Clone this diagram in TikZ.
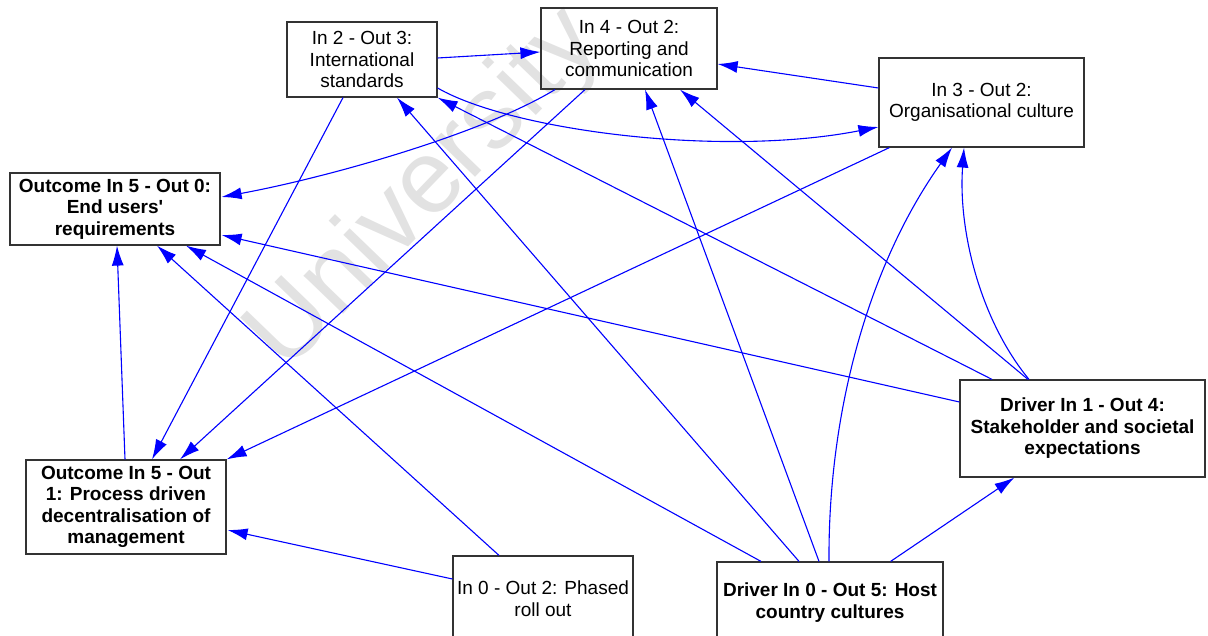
\documentclass[tikz,border=0pt]{standalone}
\usepackage{fontspec}
\setmainfont{Liberation Sans}
\usetikzlibrary{arrows.meta,calc}
\definecolor{linkblue}{RGB}{0,0,255}
\definecolor{boxgray}{RGB}{51,51,51}
\definecolor{markgray}{RGB}{226,226,226}
\begin{document}
\begin{tikzpicture}[x=0.5pt,y=-0.5pt,
  box/.style={draw=boxgray, line width=0.6pt, align=center, inner sep=0pt,
    font=\fontsize{9.5}{10.75}\selectfont},
  keybox/.style={box, font=\fontsize{9.5}{10.75}\selectfont\bfseries},
  link/.style={draw=linkblue, line width=0.55pt, -{Latex[length=10pt,width=6pt]}},
  mark text/.style={text=markgray, inner sep=0pt, rotate=46, anchor=base west,
    font=\fontsize{52}{52}\selectfont}
]
\useasboundingbox (0,0) rectangle (1208,636);
\clip (0,0) rectangle (1208,636);

% watermark
\node[mark text] (wm) at (286,374) {University};

% nodes
\node[box, minimum width=75pt, minimum height=37.5pt] (i23) at (362,59.5)
  {In 2 - Out 3:\\International\\standards};
\node[box, minimum width=88pt, minimum height=40.5pt] (i42) at (629,48.5)
  {In 4 - Out 2:\\Reporting and\\communication};
\node[box, minimum width=102.5pt, minimum height=44.5pt] (i32) at (981.5,102.5)
  {In 3 - Out 2:\\Organisational culture};
\node[keybox, minimum width=105pt, minimum height=36pt] (o50) at (115,209)
  {Outcome In 5 - Out 0:\\End users\textquotesingle\\requirements};
\node[keybox, minimum width=100pt, minimum height=47pt] (o51) at (126,507)
  {Outcome In 5 - Out\\1: Process driven\\decentralisation of\\management};
\node[box, minimum width=90pt, minimum height=42.5pt] (p02) at (543,598.5)
  {In 0 - Out 2: Phased\\roll out};
\node[keybox, minimum width=113pt, minimum height=40.5pt] (d05) at (830,602.5)
  {Driver In 0 - Out 5: Host\\country cultures};
\node[keybox, minimum width=122.5pt, minimum height=48.5pt] (d14) at (1082.5,428.5)
  {Driver In 1 - Out 4:\\Stakeholder and societal\\expectations};

% connectors
\draw[link] ($(i23.east)+(0,-1.5)$) -- ($(i42.west)+(0,3.5)$);
\draw[link] ($(i32.west)+(0,-14.5)$) -- ($(i42.east)+(0,15.5)$);
\draw[link] ($(i23.east)+(0,28.5)$) .. controls (510,130) and (720,158) .. ($(i32.west)+(0,24.5)$);
\draw[link] ($(i42.south)+(-74,0)$) .. controls (480,135) and (325,178) .. ($(o50.east)+(1,-12)$);
\draw[link] ($(i23.south)+(-19,0)$) -- ($(o51.north)+(26,0)$);
\draw[link] ($(i42.south)+(-44,0)$) -- ($(o51.north)+(54,0)$);
\draw[link] ($(i32.south west)+(11,0)$) -- (o51.north east);
\draw[link] ($(o51.north)+(-1,0)$) -- ($(o50.south)+(2,0)$);
\draw[link] ($(p02.west)+(0,-19.5)$) -- ($(o51.east)+(1,23)$);
\draw[link] ($(p02.north)+(-44,0)$) -- ($(o50.south)+(42,0)$);
\draw[link] ($(d05.north)+(-69,0)$) -- ($(o50.south)+(71,0)$);
\draw[link] ($(d05.north)+(-31,0)$) -- ($(i23.south)+(35,0)$);
\draw[link] ($(d05.north)+(-11,0)$) -- ($(i42.south)+(16,0)$);
\draw[link] ($(d05.north)+(-1,0)$) .. controls (828,420) and (865,270) .. ($(i32.south)+(-29.5,0)$);
\draw[link] ($(d05.north east)+(-53,0)$) -- ($(d14.south west)+(55,0)$);
\draw[link] ($(d14.west)+(0,-26.5)$) -- ($(o50.east)+(1,26)$);
\draw[link] ($(d14.north)+(-90.5,0)$) -- (i23.south east);
\draw[link] ($(d14.north)+(-54.5,0)$) -- ($(i42.south)+(51,0)$);
\draw[link] ($(d14.north)+(-53.5,0)$) .. controls (980,320) and (958,230) .. ($(i32.south)+(-17.5,0)$);
\end{tikzpicture}
\end{document}
